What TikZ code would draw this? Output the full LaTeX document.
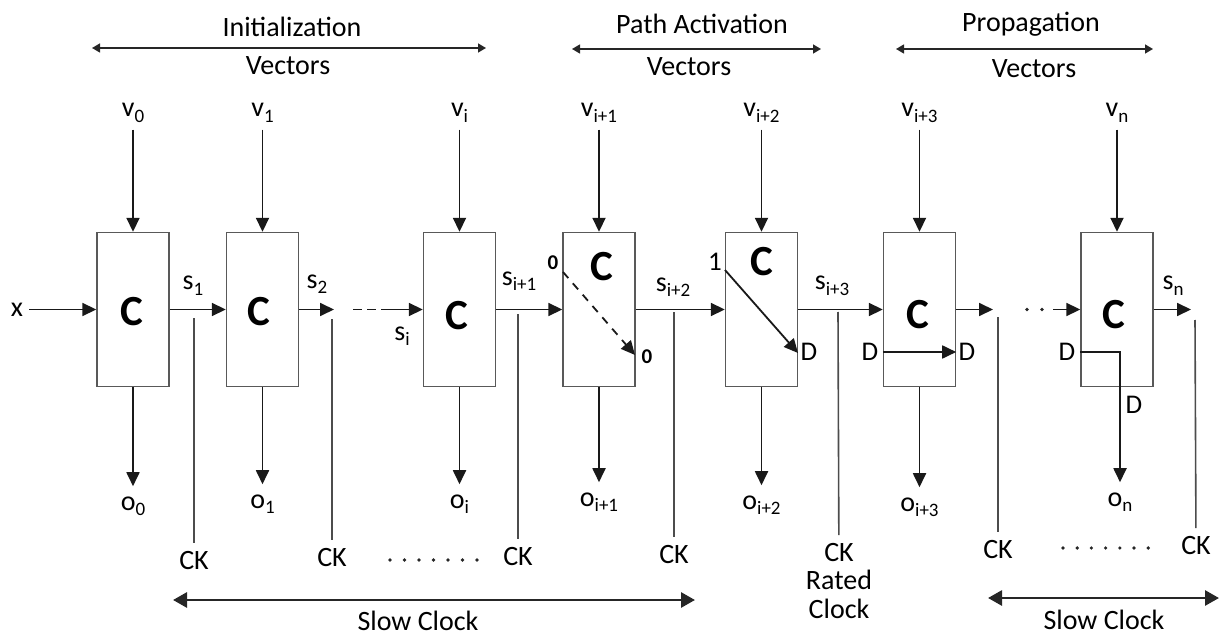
\documentclass[tikz,border=0pt]{standalone}
\usepackage{fontspec}
\setmainfont{Carlito}
\usetikzlibrary{arrows.meta,positioning}

\newcommand{\lsub}[2]{#1\raisebox{-0.4ex}{\fontsize{19}{19}\selectfont #2}}

\tikzset{
  cell/.style={draw=black!65, line width=1.4pt, minimum width=72pt, minimum height=154pt, inner sep=0pt},
  bigc/.style={font=\fontsize{43}{43}\selectfont\bfseries, inner sep=0pt},
  lbl/.style={font=\fontsize{28}{30}\selectfont, inner sep=0pt},
  vin/.style={lbl, anchor=base, inner ysep=7pt},
  vout/.style={lbl, anchor=base, inner ysep=10pt},
  cklbl/.style={lbl, anchor=north, inner ysep=8pt, align=center},
  small/.style={font=\fontsize{27}{28}\selectfont, inner sep=0pt},
  bit/.style={font=\fontsize{21}{21}\selectfont\bfseries, inner sep=0pt},
  sig/.style={draw=black!90, line width=1.8pt, ->},
  ckline/.style={draw=black!70, line width=1.6pt},
  span/.style={draw=black!85, line width=1.4pt, {Triangle[length=8pt,width=9pt]}-{Triangle[length=8pt,width=9pt]}},
  slow/.style={draw=black!85, line width=2.8pt, {Triangle[length=14pt,width=15pt]}-{Triangle[length=14pt,width=15pt]}},
  dotrow/.style={draw=black!85, line width=3.6pt, line cap=round, dash pattern=on 0pt off 14.5pt}
}

\begin{document}
\begin{tikzpicture}[x=1pt, y=-1pt, >={Triangle[length=14pt,width=13pt]}]
  \useasboundingbox (0,0) rectangle (1220,636);

  \node[lbl, anchor=base] (init) at (292,37) {Initialization};
  \node[lbl, anchor=base] (initv) at (288,75) {Vectors};
  \node[lbl, anchor=base] (path) at (702,34) {Path Activation};
  \node[lbl, anchor=base] (pathv) at (689,76) {Vectors};
  \node[lbl, anchor=base] (prop) at (1031,32) {Propagation};
  \node[lbl, anchor=base] (propv) at (1034,78) {Vectors};
  \coordinate (initl) at (92,48);
  \coordinate (initr) at (486,48);
  \coordinate (pathl) at (572,49);
  \coordinate (pathr) at (821,49);
  \coordinate (propl) at (896,49);
  \coordinate (propr) at (1153,49);
  \draw[span] (initl) -- (initr);
  \draw[span] (pathl) -- (pathr);
  \draw[span] (propl) -- (propr);

  \node[cell] (c0) at (133,309.5) {};
  \node[cell] (c1) at (262.5,309.5) {};
  \node[cell] (ci) at (459.5,309.5) {};
  \node[cell] (ci1) at (599,309.5) {};
  \node[cell] (ci2) at (761.5,309.5) {};
  \node[cell] (ci3) at (919.5,309.5) {};
  \node[cell] (cn) at (1117,309.5) {};
  \node[bigc] (k0) at (132,312) {C};
  \node[bigc] (k1) at (259,312) {C};
  \node[bigc] (ki) at (457,316) {C};
  \node[bigc] (ki1) at (602,267) {C};
  \node[bigc] (ki2) at (762,262) {C};
  \node[bigc] (ki3) at (918,315) {C};
  \node[bigc] (kn) at (1114,315) {C};

  \node[vin] (v0) at (133,117) {\lsub{v}{0}};
  \node[vin] (v1) at (262.5,117) {\lsub{v}{1}};
  \node[vin] (vi) at (459.5,117) {\lsub{v}{i}};
  \node[vin] (vi1) at (599,117) {\lsub{v}{i+1}};
  \node[vin] (vi2) at (761.5,117) {\lsub{v}{i+2}};
  \node[vin] (vi3) at (919.5,117) {\lsub{v}{i+3}};
  \node[vin] (vn) at (1117,117) {\lsub{v}{n}};
  \draw[sig] (v0.south) -- (c0.north);
  \draw[sig] (v1.south) -- (c1.north);
  \draw[sig] (vi.south) -- (ci.north);
  \draw[sig] (vi1.south) -- (ci1.north);
  \draw[sig] (vi2.south) -- (ci2.north);
  \draw[sig] (vi3.south) -- (ci3.north);
  \draw[sig] (vn.south) -- (cn.north);

  \node[vout] (o0) at (133,510) {\lsub{o}{0}};
  \node[vout] (o1) at (262.5,508) {\lsub{o}{1}};
  \node[vout] (oi) at (459.5,508) {\lsub{o}{i}};
  \node[vout] (oi1) at (599,506) {\lsub{o}{i+1}};
  \node[vout] (oi2) at (761.5,509) {\lsub{o}{i+2}};
  \node[vout] (oi3) at (919.5,511) {\lsub{o}{i+3}};
  \node[vout] (on) at (1120,506) {\lsub{o}{n}};
  \draw[sig] (c0.south) -- (o0.north);
  \draw[sig] (c1.south) -- (o1.north);
  \draw[sig] (ci.south) -- (oi.north);
  \draw[sig] (ci1.south) -- (oi1.north);
  \draw[sig] (ci2.south) -- (oi2.north);
  \draw[sig] (ci3.south) -- (oi3.north);

  \node[lbl, inner sep=6pt] (xin) at (17,309.5) {x};
  \node[lbl, anchor=base] (s1) at (193,290) {\lsub{s}{1}};
  \node[lbl, anchor=base] (s2) at (317,288) {\lsub{s}{2}};
  \node[lbl, anchor=base] (si) at (402,340) {\lsub{s}{i}};
  \node[lbl, anchor=base] (si1) at (519,285) {\lsub{s}{i+1}};
  \node[lbl, anchor=base] (si2) at (673,291) {\lsub{s}{i+2}};
  \node[lbl, anchor=base] (si3) at (832,290) {\lsub{s}{i+3}};
  \node[lbl, anchor=base] (sn) at (1173,290) {\lsub{s}{n}};
  \coordinate (s2end) at (334,309.5);
  \coordinate (dsh1) at (353,309.5);
  \coordinate (dsh2) at (386,309.5);
  \coordinate (oute) at (993,309.5);
  \coordinate (dt1) at (1027,309.5);
  \coordinate (dt2) at (1042.2,309.5);
  \coordinate (dt3) at (1053,309.5);
  \coordinate (snend) at (1191,309.5);
  \draw[sig] (xin.east) -- (c0.west);
  \draw[sig] (c0.east) -- (c1.west);
  \draw[sig] (c1.east) -- (s2end);
  \draw[sig, -, dash pattern=on 9pt off 5pt] (dsh1) -- (dsh2);
  \draw[sig] (dsh2) -- (ci.west);
  \draw[sig] (ci.east) -- (ci1.west);
  \draw[sig] (ci1.east) -- (ci2.west);
  \draw[sig] (ci2.east) -- (ci3.west);
  \draw[sig] (ci3.east) -- (oute);
  \draw[dotrow, dash pattern=on 0pt off 15pt] (dt1) -- (dt2);
  \draw[sig] (dt3) -- (cn.west);
  \draw[sig] (cn.east) -- (snend);

  \node[bit] (z0) at (553,263) {0};
  \node[bit] (z1) at (647,357) {0};
  \coordinate (da) at (563,272);
  \coordinate (db) at (635,355);
  \draw[sig, dash pattern=on 8pt off 7pt] (da) -- (db);
  \node[small] (b1) at (715,262) {1};
  \coordinate (ea) at (725,270);
  \coordinate (eb) at (798,353);
  \draw[sig] (ea) -- (eb);
  \node[small] (d1) at (809,352) {D};
  \node[small] (d2) at (870,352) {D};
  \node[small] (d3) at (967,352) {D};
  \draw[sig] (ci3.west |- d2) -- (ci3.east |- d3);
  \node[small] (d4) at (1067,352) {D};
  \node[small] (d5) at (1134,405) {D};
  \coordinate (dn) at (1120,352);
  \draw[sig] (cn.west |- d4) -- (dn) -- (on.north);

  \coordinate (t1) at (194,318);
  \coordinate (t2) at (332,319);
  \coordinate (t3) at (518,314);
  \coordinate (t4) at (674,312);
  \coordinate (t5) at (838,312);
  \coordinate (t6) at (998,317);
  \coordinate (t7) at (1195,320);
  \node[cklbl] (ck1) at (194,543) {CK};
  \node[cklbl] (ck2) at (332,540) {CK};
  \node[cklbl] (ck3) at (518,539) {CK};
  \node[cklbl] (ck4) at (674,537) {CK};
  \node[cklbl, font=\fontsize{28}{28.5}\selectfont] (ck5) at (839,535) {CK\\Rated\\Clock};
  \node[cklbl] (ck6) at (998,532) {CK};
  \node[cklbl] (ck7) at (1196,528) {CK};
  \draw[ckline] (t1) -- (ck1);
  \draw[ckline] (t2) -- (ck2);
  \draw[ckline] (t3) -- (ck3);
  \draw[ckline] (t4) -- (ck4);
  \draw[ckline] (t5) -- (ck5);
  \draw[ckline] (t6) -- (ck6);
  \draw[ckline] (t7) -- (ck7);

  \coordinate (ld1) at (390,560);
  \coordinate (ld2) at (477.2,560);
  \coordinate (rd1) at (1063,548);
  \coordinate (rd2) at (1148.4,548);
  \draw[dotrow] (ld1) -- (ld2);
  \draw[dotrow, dash pattern=on 0pt off 14.2pt] (rd1) -- (rd2);

  \coordinate (sl1) at (173,600);
  \coordinate (sl2) at (695,600);
  \coordinate (sr1) at (988,598);
  \coordinate (sr2) at (1219,598);
  \draw[slow] (sl1) -- (sl2);
  \draw[slow] (sr1) -- (sr2);
  \node[lbl, anchor=base] (slowa) at (418,630) {Slow Clock};
  \node[lbl, anchor=base] (slowb) at (1104,629) {Slow Clock};
\end{tikzpicture}
\end{document}
